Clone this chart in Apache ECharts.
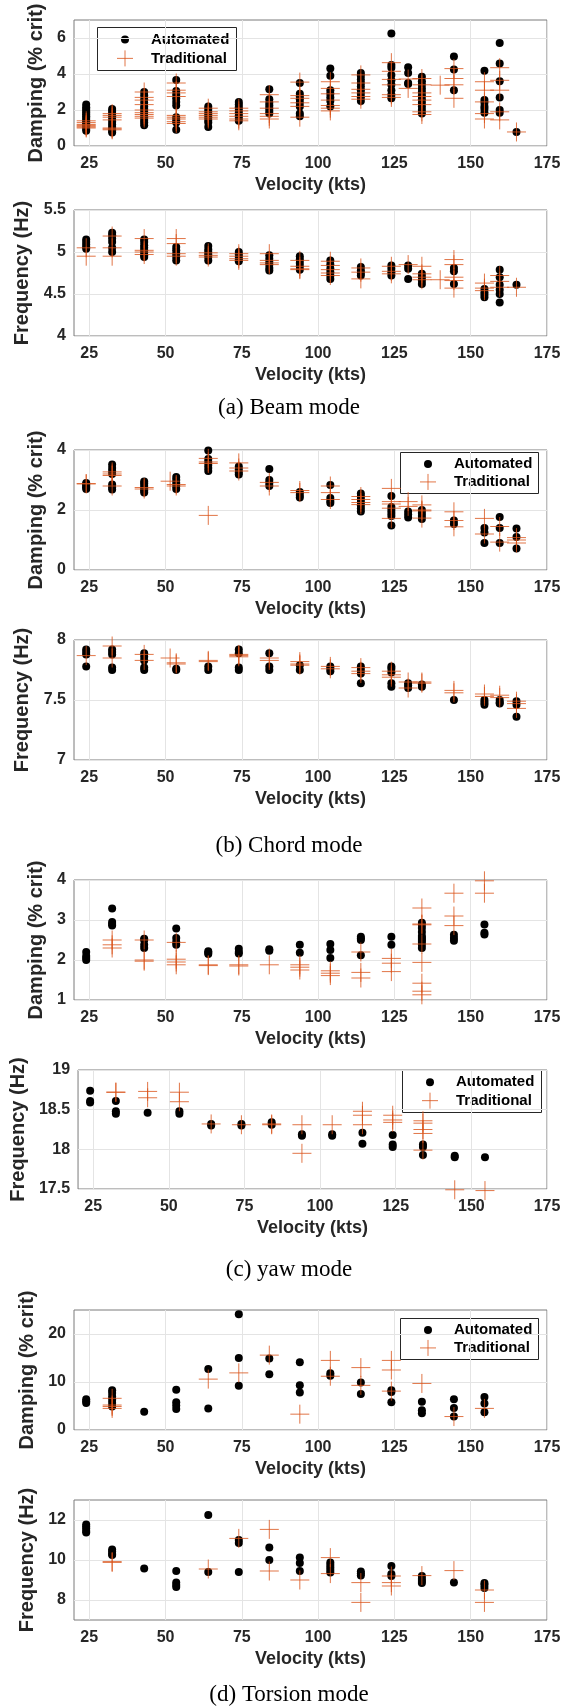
<!DOCTYPE html>
<html><head><meta charset="utf-8">
<script src="https://cdn.jsdelivr.net/npm/echarts@6/dist/echarts.min.js"></script>
<style>html,body{margin:0;padding:0;background:#fff}#c{width:571px;height:1707px}</style>
</head><body><div id="c"></div>
<script>
// ---------------- DATA ----------------
const velTicks = [25, 50, 75, 100, 125, 150, 175];

// (a) Beam mode
const beamAutoV = [24, 32.5, 43, 53.5, 64, 74, 84, 94, 104, 114, 124, 129.5, 134, 144.5, 154.5, 159.5, 165];
const beamTradV = [24, 32.5, 43, 53.5, 64, 74, 84, 94, 104, 114, 124, 129.5, 134, 140, 144.5, 154.5, 159.5, 165];
const beamDampAuto = [
  [0.85,0.95,1.05,1.15,1.25,1.35,1.45,1.55,1.65,1.75,1.85,1.95,2.05,2.15,2.3],
  [0.75,0.85,0.95,1.05,1.2,1.35,1.5,1.65,1.8,1.95,2.05],
  [1.15,1.3,1.45,1.6,1.75,1.9,2.05,2.2,2.4,2.6,2.8,3.0],
  [0.9,1.3,1.45,1.6,2.25,2.45,2.65,2.85,3.05,3.67],
  [1.05,1.3,1.45,1.6,1.75,1.9,2.05,2.2],
  [1.4,1.55,1.7,1.85,2.0,2.15,2.3,2.45],
  [1.8,1.95,2.1,2.25,2.4,2.6,3.15],
  [1.65,1.8,2.2,2.4,2.6,2.75,2.9,3.5],
  [2.2,2.5,2.7,2.9,3.1,3.9,4.3],
  [2.5,2.7,2.9,3.1,3.3,3.5,3.7,3.9,4.05],
  [2.65,2.85,3.1,3.4,3.65,3.95,4.35,4.5,6.25],
  [3.45,3.5,4.05,4.37],
  [1.8,2.0,2.2,2.4,2.6,2.8,3.0,3.2,3.4,3.6,3.85],
  [3.1,4.25,4.97],
  [1.85,2.05,2.2,2.4,2.55,4.18],
  [1.85,2.0,2.7,3.6,4.58,5.72],
  [0.78]
];
const beamDampTrad = [
  [1.0,1.05,1.1,1.15,1.2,1.3,1.4],
  [0.9,0.95,1.0,1.45,1.6,1.7,1.8],
  [1.55,1.65,1.75,1.85,2.0,2.3,2.55,2.7,3.0],
  [1.25,1.35,1.5,1.6,1.7,2.75,2.95,3.1,3.5],
  [1.5,1.6,1.7,1.8,1.9,2.1],
  [1.4,1.5,1.65,1.8,1.95,2.1],
  [1.5,1.65,1.8,2.1,2.45,2.85],
  [1.6,2.2,2.4,2.65,2.8,3.55],
  [1.95,2.1,2.25,2.55,2.9,3.2,3.57],
  [2.6,2.75,2.95,3.15,3.5,3.95],
  [2.7,2.85,3.4,3.7,4.15,4.63],
  [3.2,3.72],
  [1.75,1.9,2.3,2.55,2.75,2.95,3.4,3.75],
  [3.38],
  [2.65,3.4,3.75,4.3],
  [1.5,1.8,2.45,3.1,3.57],
  [1.45,1.9,3.1,3.65,4.35],
  [0.78]
];
const beamFreqAuto = [
  [5.04,5.06,5.09,5.12,5.15],
  [5.0,5.05,5.12,5.16,5.2,5.23],
  [4.94,4.96,4.99,5.02,5.05,5.08,5.12,5.15],
  [4.9,4.94,4.98,5.02,5.06],
  [4.9,4.94,4.97,5.0,5.03,5.07],
  [4.89,4.91,4.94,4.97,5.0],
  [4.78,4.81,4.85,4.88,4.92,4.96],
  [4.79,4.83,4.87,4.91,4.95],
  [4.68,4.72,4.76,4.8,4.85,4.9],
  [4.72,4.75,4.78,4.82],
  [4.72,4.76,4.8,4.84],
  [4.68,4.8,4.84],
  [4.62,4.66,4.7,4.74],
  [4.62,4.77,4.81],
  [4.46,4.49,4.52,4.56],
  [4.4,4.5,4.55,4.61,4.7,4.79],
  [4.61]
];
const beamFreqTrad = [
  [4.95,5.05],
  [4.95,5.05,5.19],
  [4.97,5.0,5.02,5.16],
  [4.95,4.98,5.1,5.16],
  [4.94,4.96,4.99],
  [4.9,4.92,4.95,4.98],
  [4.85,4.87,4.9,4.98],
  [4.79,4.8,4.83,4.9],
  [4.72,4.75,4.79,4.84,4.89],
  [4.68,4.76,4.81],
  [4.74,4.77,4.83],
  [4.85],
  [4.67,4.7,4.74,4.83],
  [4.67],
  [4.57,4.66,4.7,4.85,4.91],
  [4.54,4.57,4.63],
  [4.58,4.65,4.72],
  [4.58]
];

// (b) Chord mode
const chordAutoV = [24, 32.5, 43, 53.5, 64, 74, 84, 94, 104, 114, 124, 129.5, 134, 144.5, 154.5, 159.5, 165];
const chordTradV = [24, 32.5, 43, 51.5, 53.5, 64, 74, 84, 94, 104, 114, 124, 129.5, 134, 144.5, 154.5, 159.5, 165];
const chordDampAuto = [
  [2.7,2.75,2.8,2.85,2.9],
  [2.68,2.75,2.85,3.2,3.3,3.4,3.52],
  [2.58,2.65,2.72,2.8,2.88,2.95],
  [2.7,2.8,2.9,3.0,3.1],
  [3.3,3.4,3.5,3.6,3.7,3.98],
  [3.18,3.25,3.35,3.45],
  [2.8,2.9,3.0,3.37],
  [2.42,2.5,2.6],
  [2.23,2.3,2.4,2.83],
  [1.95,2.05,2.15,2.25,2.35,2.45,2.55],
  [1.48,1.8,1.9,2.0,2.1,2.47],
  [1.75,1.85,1.95],
  [1.7,1.8,1.9,2.0],
  [1.53,1.65],
  [0.9,1.25,1.4],
  [0.9,1.4,1.77],
  [0.72,1.1,1.38]
];
const chordDampTrad = [
  [2.87,2.88],
  [2.8,3.15,3.2,3.27],
  [2.7,2.75],
  [2.96],
  [2.8,2.85],
  [1.82,3.55,3.6,3.72],
  [3.3,3.4,3.57],
  [2.8,2.92],
  [2.58,2.65],
  [2.35,2.58,2.8],
  [2.18,2.25,2.35,2.45],
  [1.72,2.06,2.2,2.28,2.72],
  [2.12,2.28],
  [1.73,1.97,2.0,2.17],
  [1.44,1.65,1.94],
  [1.2,1.72],
  [0.93,1.45],
  [0.9,1.0,1.08]
];
const chordFreqAuto = [
  [7.78,7.88,7.9,7.92],
  [7.75,7.77,7.88,7.9,7.92],
  [7.75,7.77,7.83,7.86,7.89],
  [7.75,7.76],
  [7.75,7.78],
  [7.75,7.77,7.89,7.92],
  [7.75,7.78,7.89],
  [7.75,7.79],
  [7.74,7.76,7.78],
  [7.64,7.72,7.75,7.78],
  [7.61,7.64,7.73,7.76,7.78],
  [7.6,7.62,7.64],
  [7.61,7.63],
  [7.5],
  [7.46,7.48,7.5],
  [7.47,7.48,7.5],
  [7.36,7.46,7.49]
];
const chordFreqTrad = [
  [7.87],
  [7.85,7.95],
  [7.83,7.88],
  [7.85],
  [7.8,7.81],
  [7.82,7.83],
  [7.86,7.87,7.88],
  [7.83,7.85],
  [7.79,7.8,7.82],
  [7.76,7.78],
  [7.72,7.74,7.77],
  [7.69,7.71,7.74],
  [7.6,7.65],
  [7.64,7.65],
  [7.56,7.58],
  [7.53,7.55],
  [7.52,7.54],
  [7.43,7.47,7.49]
];

// (c) yaw mode
const yawAutoV = [24, 32.5, 43, 53.5, 64, 74, 84, 94, 104, 114, 124, 134, 144.5, 154.5];
const yawTradV = [32.5, 43, 53.5, 64, 74, 84, 94, 104, 114, 124, 134, 144.5, 154.5];
const yawDampAuto = [
  [2.0,2.05,2.1,2.2],
  [2.86,2.9,2.95,3.29],
  [2.3,2.38,2.5,2.53],
  [2.38,2.45,2.55,2.79],
  [2.15,2.18,2.22],
  [2.16,2.2,2.28],
  [2.23,2.27],
  [2.18,2.38],
  [2.05,2.25,2.4],
  [2.12,2.5,2.54,2.58],
  [2.38,2.58],
  [2.3,2.38,2.45,2.5,2.55,2.6,2.7,2.8,2.88,2.93],
  [2.48,2.55,2.63],
  [2.64,2.68,2.89]
];
const yawDampTrad = [
  [2.3,2.38,2.5],
  [1.97,2.0,2.5],
  [1.88,1.95,2.02,2.44],
  [1.86,1.88],
  [1.85,1.88],
  [1.88],
  [1.75,1.82,1.88],
  [1.61,1.67,1.73],
  [1.55,1.69,2.2],
  [1.71,1.92,2.04],
  [1.13,1.22,1.42,1.94,2.4,2.88,2.9,3.3],
  [2.86,3.1,3.67],
  [3.67,3.98]
];
const yawFreqAuto = [
  [18.59,18.61,18.74],
  [18.45,18.48,18.61],
  [18.46],
  [18.45,18.48],
  [18.3,18.32],
  [18.3,18.32],
  [18.31,18.34],
  [18.17,18.19],
  [18.17,18.19],
  [18.07,18.21],
  [18.03,18.06,18.18],
  [17.93,18.03,18.06],
  [17.9,17.92],
  [17.9]
];
const yawFreqTrad = [
  [18.72,18.72],
  [18.65,18.73],
  [18.6,18.72],
  [18.32],
  [18.31],
  [18.31,18.32],
  [17.95,18.31],
  [18.31],
  [18.31,18.43,18.48],
  [18.34,18.37,18.43],
  [17.99,18.2,18.25,18.33,18.36],
  [17.49],
  [17.48]
];

// (d) Torsion mode
const torAutoV = [24, 32.5, 43, 53.5, 64, 74, 84, 94, 104, 114, 124, 134, 144.5, 154.5];
const torTradV = [32.5, 64, 74, 84, 94, 104, 114, 124, 134, 144.5, 154.5];
const torDampAuto = [
  [5.6,6.0,6.4],
  [4.9,5.6,6.3,7.0,7.7,8.3],
  [3.8],
  [4.4,5.1,5.8,8.4],
  [4.5,12.7],
  [9.2,15.0,24.1],
  [11.6,14.9],
  [7.8,9.3,14.1],
  [11.3,11.8],
  [7.5,9.9],
  [5.8,7.9,8.3],
  [3.5,4.1,5.9],
  [2.8,4.6,6.4],
  [3.7,5.5,6.9]
];
const torDampTrad = [
  [4.5,4.9,5.2,6.6],
  [10.6],
  [11.9],
  [15.6],
  [3.3],
  [11.2,14.5],
  [9.3,13.0],
  [8.1,12.5,14.5],
  [9.7],
  [2.8],
  [4.5]
];
const torFreqAuto = [
  [11.38,11.45,11.58,11.68,11.78],
  [10.25,10.3,10.42,10.52],
  [9.57],
  [8.65,8.75,8.88,9.45],
  [9.4,12.25],
  [9.4,10.85,11.0],
  [10.0,10.62],
  [9.45,9.85,10.12],
  [9.37,9.5,9.62,9.75,9.87],
  [9.22,9.33,9.43],
  [9.2,9.3,9.7],
  [8.85,8.95,9.05,9.2],
  [8.88],
  [8.6,8.75,8.85]
];
const torFreqTrad = [
  [9.88,9.92],
  [9.55],
  [11.08],
  [9.45,11.53],
  [9.0],
  [9.32,10.12],
  [7.88,8.87],
  [8.7,8.87,9.2],
  [9.22],
  [9.47],
  [7.88,8.5]
];

// y tick labels per panel
const beamDampTicks = [0, 2, 4, 6];
const beamFreqTicks = [4, 4.5, 5, 5.5];
const chordDampTicks = [0, 2, 4];
const chordFreqTicks = [7, 7.5, 8];
const yawDampTicks = [1, 2, 3, 4];
const yawFreqTicks = [17.5, 18, 18.5, 19];
const torDampTicks = [0, 10, 20];
const torFreqTicks = [8, 10, 12];

const captions = ['(a) Beam mode', '(b) Chord mode', '(c) yaw mode', '(d) Torsion mode'];
const dampName = 'Damping (% crit)';
const freqName = 'Frequency (Hz)';
const velName = 'Velocity (kts)';
const autoName = 'Automated';
const tradName = 'Traditional';

// ---------------- BUILD ----------------
function pairs(vs, ys) {
  const out = [];
  vs.forEach((v, i) => ys[i].forEach(y => out.push([v, y])));
  return out;
}
const SANS = '"Liberation Sans", Arial, sans-serif';
const TXT = '#262626';
const GRIDC = '#e4e4e4';
const ORANGE = 'rgba(217,83,25,0.8)';
const near = (a, b) => Math.abs(a - b) < 1e-6;

const panels = [
  {top: 20,   h: 126, min: 0,    max: 7,  step: 1,   ticks: beamDampTicks,  name: dampName, gap: 13, a: pairs(beamAutoV, beamDampAuto),  t: pairs(beamTradV, beamDampTrad),  leg: [97, 27, 139, 43]},
  {top: 210,  h: 126, min: 4,    max: 5.5,step: 0.5, ticks: beamFreqTicks,  name: freqName, gap: 27, a: pairs(beamAutoV, beamFreqAuto),  t: pairs(beamTradV, beamFreqTrad)},
  {top: 450,  h: 120, min: 0,    max: 4,  step: 2,   ticks: chordDampTicks, name: dampName, gap: 10, a: pairs(chordAutoV, chordDampAuto), t: pairs(chordTradV, chordDampTrad), leg: [400, 452, 138, 41]},
  {top: 640,  h: 120, min: 7,    max: 8,  step: 0.5, ticks: chordFreqTicks, name: freqName, gap: 27, a: pairs(chordAutoV, chordFreqAuto), t: pairs(chordTradV, chordFreqTrad)},
  {top: 880,  h: 120, min: 1,    max: 4,  step: 1,   ticks: yawDampTicks,   name: dampName, gap: 10, a: pairs(yawAutoV, yawDampAuto),     t: pairs(yawTradV, yawDampTrad)},
  {top: 1070, h: 119, min: 17.5, max: 19, step: 0.5, ticks: yawFreqTicks,   name: freqName, gap: 38, a: pairs(yawAutoV, yawFreqAuto),     t: pairs(yawTradV, yawFreqTrad),     leg: [402, 1070, 139, 42]},
  {top: 1310, h: 120, min: 0,    max: 25, step: 5,   ticks: torDampTicks,   name: dampName, gap: 19, a: pairs(torAutoV, torDampAuto),     t: pairs(torTradV, torDampTrad),     leg: [400, 1318, 138, 41]},
  {top: 1500, h: 120, min: 7,    max: 13, step: 1,   ticks: torFreqTicks,   name: freqName, gap: 19, a: pairs(torAutoV, torFreqAuto),     t: pairs(torTradV, torFreqTrad)}
];
const capY = [408, 846, 1270, 1695];

function lineColors(min, max, step, labels) {
  const n = Math.round((max - min) / step);
  const arr = [];
  for (let i = 0; i <= n; i++) {
    const v = min + i * step;
    arr.push(labels.some(l => near(l, v)) ? GRIDC : 'rgba(0,0,0,0)');
  }
  return arr;
}
function labelFmt(labels) {
  return v => { const m = labels.find(l => near(l, v)); return m === undefined ? '' : String(m); };
}

const PLUS = 'path://M10,0L10,20M0,10L20,10';
const grid = [], xAxis = [], yAxis = [], series = [], graphic = [];
const X0 = 74, XW = 473;
panels.forEach((p, i) => {
  grid.push({left: X0, width: XW, top: p.top, height: p.h, show: true, borderColor: '#7a7a7a', borderWidth: 1, backgroundColor: 'rgba(0,0,0,0)'});
  xAxis.push({
    type: 'value', gridIndex: i, min: 20, max: 175, interval: 5,
    axisLine: {show: false}, axisTick: {show: false},
    axisLabel: {formatter: labelFmt(velTicks), color: TXT, fontWeight: 'bold', fontSize: 16, fontFamily: SANS, margin: 10},
    splitLine: {show: true, lineStyle: {color: lineColors(20, 175, 5, velTicks), width: 1}},
    name: velName, nameLocation: 'middle', nameGap: 30,
    nameTextStyle: {color: TXT, fontWeight: 'bold', fontSize: 18, fontFamily: SANS}
  });
  yAxis.push({
    type: 'value', gridIndex: i, min: p.min, max: p.max, interval: p.step,
    axisLine: {show: false}, axisTick: {show: false},
    axisLabel: {formatter: labelFmt(p.ticks), color: TXT, fontWeight: 'bold', fontSize: 16, fontFamily: SANS, margin: 8},
    splitLine: {show: true, lineStyle: {color: lineColors(p.min, p.max, p.step, p.ticks), width: 1}},
    name: p.name, nameLocation: 'middle', nameGap: p.gap,
    nameTextStyle: {color: TXT, fontWeight: 'bold', fontSize: 20, fontFamily: SANS}
  });
  series.push({
    type: 'scatter', name: autoName, xAxisIndex: i, yAxisIndex: i, data: p.a, clip: false,
    symbol: 'circle', symbolSize: 8, itemStyle: {color: '#000', opacity: 1}, z: 2
  });
  series.push({
    type: 'scatter', name: tradName, xAxisIndex: i, yAxisIndex: i, data: p.t, clip: false,
    symbol: PLUS, symbolSize: 19,
    itemStyle: {color: 'rgba(0,0,0,0)', borderColor: ORANGE, borderWidth: 1, opacity: 1}, z: 3
  });
  if (p.leg) {
    const [lx, ly, lw, lh] = p.leg;
    const cx = lx + 28, r1 = ly + lh * 0.29, r2 = ly + lh * 0.73, tx = lx + 54;
    graphic.push({type: 'group', z: 100, children: [
      {type: 'rect', shape: {x: lx + 0.5, y: ly + 0.5, width: lw, height: lh}, style: {fill: '#fff', stroke: '#262626', lineWidth: 1}},
      {type: 'circle', shape: {cx: cx, cy: r1, r: 4}, style: {fill: '#000'}},
      {type: 'line', shape: {x1: cx - 8, y1: r2, x2: cx + 8, y2: r2}, style: {stroke: ORANGE, lineWidth: 1}},
      {type: 'line', shape: {x1: cx, y1: r2 - 8, x2: cx, y2: r2 + 8}, style: {stroke: ORANGE, lineWidth: 1}},
      {type: 'text', x: tx, y: r1, style: {text: autoName, fill: '#000', font: 'bold 15px ' + SANS, verticalAlign: 'middle', align: 'left'}},
      {type: 'text', x: tx, y: r2, style: {text: tradName, fill: '#000', font: 'bold 15px ' + SANS, verticalAlign: 'middle', align: 'left'}}
    ]});
  }
});
captions.forEach((c, i) => {
  graphic.push({type: 'text', z: 100, x: 289, y: capY[i], style: {text: c, fill: '#000', font: '23px "Liberation Serif", "Times New Roman", serif', align: 'center', verticalAlign: 'middle'}});
});

const chart = echarts.init(document.getElementById('c'), null, {renderer: 'canvas'});
chart.setOption({
  backgroundColor: '#fff',
  animation: false,
  grid, xAxis, yAxis, series, graphic
});
</script>
</body></html>
